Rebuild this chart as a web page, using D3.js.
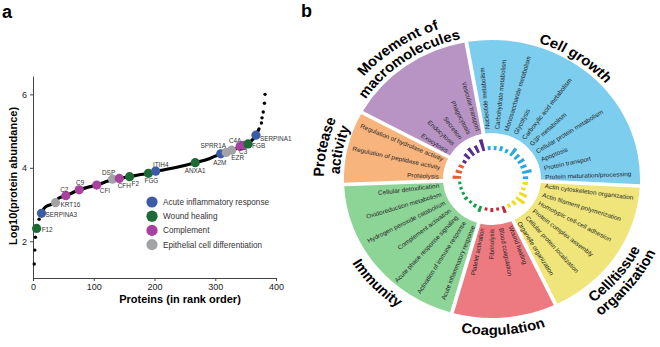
<!DOCTYPE html>
<html>
<head>
<meta charset="utf-8">
<script src="https://cdn.jsdelivr.net/npm/d3@7"></script>
<style>
body { margin: 0; background: #fff; }
svg { font-family: "Liberation Sans", Arial, sans-serif; }
</style>
</head>
<body>
<div class="svg-container"></div>
<script>
// ---- panel a: ranked protein abundance ----
var curveRank  = [14, 20, 33, 37, 42, 54, 65, 76, 90, 105, 118, 131, 142, 159, 175, 190, 202, 235, 267, 290, 309, 327, 347, 354, 362, 367, 372];
var curveValue = [2.76, 2.93, 3.02, 3.05, 3.17, 3.24, 3.32, 3.40, 3.47, 3.53, 3.61, 3.68, 3.71, 3.76, 3.81, 3.85, 3.90, 4.01, 4.14, 4.25, 4.38, 4.48, 4.60, 4.66, 4.78, 4.89, 5.06];
var dotRank  = [2, 3, 4, 10, 376, 377, 379, 381, 382];
var dotValue = [1.38, 1.76, 2.11, 2.60, 5.22, 5.36, 5.52, 5.76, 6.0];

var markerName  = ["F12", "SERPINA3", "KRT16", "C2", "C9", "CFI", "DSP", "CFH", "F2", "FGG", "ITIH4", "ANXA1", "A2M", "SPRR1A", "EZR", "C4A", "C3", "FGB", "SERPINA1"];
var markerRank  = [6, 14, 37, 54, 76, 105, 131, 142, 159, 190, 202, 267, 309, 318, 327, 341, 346, 354, 367];
var markerValue = [2.35, 2.76, 3.05, 3.24, 3.40, 3.53, 3.69, 3.71, 3.76, 3.85, 3.91, 4.14, 4.38, 4.42, 4.48, 4.58, 4.61, 4.65, 4.89];
var markerGroup = [1, 0, 3, 2, 2, 2, 3, 2, 1, 1, 0, 1, 0, 3, 3, 2, 2, 1, 0];

var groupNames  = ["Acute inflammatory response", "Wound healing", "Complement", "Epithelial cell differentiation"];
var groupColors = ["#3a5ba8", "#1d6a35", "#a8419f", "#a2a3a5"];
var xTicks = [0, 100, 200, 300, 400];
var yTicks = [2, 4, 6];

// ---- panel b: GO categories ----
var sectorNames = ["Cell growth", "Cell/tissue organization", "Coagulation", "Immunity", "Protease activity", "Movement of macromolecules"];
var sectorTerms = [
  ["Nucleotide metabolism", "Carbohydrate metabolism", "Monosaccharide metabolism", "Glycolysis", "Carboxylic acid metabolism", "G3P metabolism", "Cellular protein metabolism", "Apoptosis", "Protein transport", "Protein maturation/processing"],
  ["Actin cytoskeleton organization", "Actin filament polymerization", "Homotypic cell-cell adhesion", "Protein complex assembly", "Cellular protein localization", "Organelle organization"],
  ["Wound healing", "Blood coagulation", "Fibrinolysis", "Platelet activation"],
  ["Acute inflammatory response", "Activation of immune response", "Acute phase response signaling", "Complement activation", "Hydrogen peroxide catabolism", "Oxidoreduction metabolism", "Cellular detoxification"],
  ["Proteolysis", "Regulation of peptidase activity", "Regulation of hydrolase activity"],
  ["Exocytosis", "Endocytosis", "Secretion", "Phagocytosis", "Vesicular transport"]
];
var termBars = [
  [4, 4, 5, 4, 9, 6, 7, 6, 9, 5],
  [5, 4, 8, 10, 5, 4],
  [7, 3, 4, 3],
  [6, 4, 3, 4, 3, 3, 3],
  [8, 6, 5],
  [4, 7, 9, 8, 12]
];
var wedgeColors = ["#7ccdee", "#efe57b", "#ee7a81", "#8dd497", "#f8b47d", "#b894c5"];
var barColors   = ["#27a8e0", "#f2dc16", "#bf2a36", "#17a04b", "#f05a2a", "#5a2c8c"];

// label placement for panel a (offset from marker: dx, dy, anchor)
var labelPos = {
  F12: [5, 4, "start"], SERPINA3: [4, 3.5, "start"], KRT16: [5, 4, "start"],
  C2: [-1.5, -4, "middle"], C9: [1, -5, "middle"], CFI: [3, 7.5, "start"],
  DSP: [-4, -4, "middle"], CFH: [5, 10, "middle"], F2: [2, 9, "start"],
  FGG: [3, 10, "middle"], ITIH4: [5, -4, "middle"], ANXA1: [0, 10, "middle"],
  A2M: [-1, 11, "middle"], SPRR1A: [-13, -4, "middle"], EZR: [6, 10, "middle"],
  C4A: [-5, -4, "middle"], C3: [0, 9, "middle"], FGB: [4, 4.5, "start"],
  SERPINA1: [4, 6, "start"]
};

var svg = d3.select(".svg-container").append("svg")
  .attr("width", 660)
  .attr("height", 347);

svg.append("text").attr("x", 2).attr("y", 18)
  .style("font-size", "18px").style("font-weight", "bold").text("a");
svg.append("text").attr("x", 301).attr("y", 17)
  .style("font-size", "18px").style("font-weight", "bold").text("b");

// ===== panel a =====
var x = d3.scaleLinear().domain([0, 400]).range([33, 276]);
var y = d3.scaleLinear().domain([1, 6.5]).range([278, 76]);

var xAxis = svg.append("g")
  .attr("transform", "translate(0,278)")
  .call(d3.axisBottom(x).tickValues(xTicks).tickFormat(d3.format("d")).tickSize(3).tickSizeOuter(0));
var yAxis = svg.append("g")
  .attr("transform", "translate(33,0)")
  .call(d3.axisLeft(y).tickValues(yTicks).tickFormat(d3.format("d")).tickSize(3).tickSizeOuter(0));
[xAxis, yAxis].forEach(function(ax){
  ax.selectAll("path, line").attr("stroke", "#444");
  ax.selectAll("text").attr("fill", "#222").style("font-size", "9px")
    .style("font-family", "'Liberation Sans', Arial, sans-serif");
});

svg.append("text")
  .attr("transform", "rotate(-90)")
  .attr("x", -176).attr("y", 17)
  .style("text-anchor", "middle").style("font-size", "11px").style("font-weight", "bold")
  .text("Log10(protein abundance)");
svg.append("text")
  .attr("x", 180).attr("y", 303)
  .style("text-anchor", "middle").style("font-size", "11px").style("font-weight", "bold")
  .text("Proteins (in rank order)");

var curvePts = curveRank.map(function(r, i){ return [r, curveValue[i]]; });
var line = d3.line()
  .x(function(d){ return x(d[0]); })
  .y(function(d){ return y(d[1]); })
  .curve(d3.curveMonotoneX);
svg.append("path").datum(curvePts)
  .attr("d", line).attr("fill", "none")
  .attr("stroke", "#000").attr("stroke-width", 3.2).attr("stroke-linecap", "round");

svg.selectAll(".tail").data(dotRank).enter().append("circle")
  .attr("cx", function(d){ return x(d); })
  .attr("cy", function(d, i){ return y(dotValue[i]); })
  .attr("r", 1.7).attr("fill", "#000");

svg.selectAll(".marker").data(markerName).enter().append("circle")
  .attr("cx", function(d, i){ return x(markerRank[i]); })
  .attr("cy", function(d, i){ return y(markerValue[i]); })
  .attr("r", 4.6)
  .attr("fill", function(d, i){ return groupColors[markerGroup[i]]; });

svg.selectAll(".mlabel").data(markerName).enter().append("text")
  .attr("x", function(d, i){ return x(markerRank[i]) + labelPos[d][0]; })
  .attr("y", function(d, i){ return y(markerValue[i]) + labelPos[d][1]; })
  .style("text-anchor", function(d){ return labelPos[d][2]; })
  .style("font-size", "6.4px").attr("fill", "#333")
  .text(function(d){ return d; });

var legend = svg.append("g").attr("transform", "translate(152,202)");
groupNames.forEach(function(name, i){
  legend.append("circle").attr("cx", 0).attr("cy", i * 14.2).attr("r", 5.6).attr("fill", groupColors[i]);
  legend.append("text").attr("x", 11).attr("y", i * 14.2 + 3)
    .style("font-size", "8.2px").attr("fill", "#333").text(name);
});

// ===== panel b =====
var total = d3.sum(sectorTerms, function(t){ return t.length; });
var step = 360 / total;
var start = -10;
var rad = Math.PI / 180;
var rIn = 46, rOut = 139, rBar = 29, rLab = 50;

var wheel = svg.append("g").attr("transform", "translate(492,179) scale(1.065,1)");

var wedgeArc = d3.arc().innerRadius(rIn).outerRadius(rOut).padAngle(0.036).padRadius(100);
var barArc = d3.arc().innerRadius(rBar);

var k = 0;
sectorTerms.forEach(function(terms, s){
  var a0 = start + k * step, a1 = a0 + terms.length * step;
  wheel.append("path")
    .attr("d", wedgeArc({startAngle: a0 * rad, endAngle: a1 * rad}))
    .attr("fill", wedgeColors[s]);
  terms.forEach(function(t, j){
    var a = start + (k + j + 0.5) * step;
    wheel.append("path")
      .attr("d", barArc.outerRadius(rBar + termBars[s][j])({startAngle: (a - 2.5) * rad, endAngle: (a + 2.5) * rad}))
      .attr("fill", barColors[s]);
    var left = a >= 180;
    var g = wheel.append("g")
      .attr("transform", "rotate(" + (a - 90) + ") translate(" + rLab + ",0)" + (left ? " rotate(180)" : ""));
    g.append("text")
      .attr("dy", "0.35em")
      .style("text-anchor", left ? "end" : "start")
      .style("font-size", "6.1px").attr("fill", "#262626")
      .text(t);
  });
  k += terms.length;
});

// sector titles on arcs
var titleLayout = [
  {lines: ["Cell growth"], angle: 33, top: true},
  {lines: ["Cell/tissue", "organization"], angle: 129.5, top: false},
  {lines: ["Coagulation"], angle: 176, top: false},
  {lines: ["Immunity"], angle: 226, top: false},
  {lines: ["Protease", "activity"], angle: -78.5, top: true},
  {lines: ["Movement of", "macromolecules"], angle: -34, top: true}
];
function arcD(R, a0, a1, sweep){
  var p0 = [R * Math.sin(a0 * rad), -R * Math.cos(a0 * rad)];
  var p1 = [R * Math.sin(a1 * rad), -R * Math.cos(a1 * rad)];
  return "M" + p0[0] + "," + p0[1] + " A" + R + "," + R + " 0 0 " + sweep + " " + p1[0] + "," + p1[1];
}
titleLayout.forEach(function(tl, i){
  // top titles: first line is the outer one; bottom titles: first line is the inner one
  tl.lines.forEach(function(txt, j){
    var R;
    if (tl.top) {
      R = tl.lines.length == 1 ? 143 : (j == 0 ? 158 : 143);
    } else {
      R = j == 0 ? 156 : 170.5;
    }
    var id = "tp" + i + "_" + j;
    var d = tl.top ? arcD(R, tl.angle - 80, tl.angle + 80, 1) : arcD(R, tl.angle + 80, tl.angle - 80, 0);
    wheel.append("path").attr("id", id).attr("d", d).attr("fill", "none");
    wheel.append("text")
      .style("font-size", "14px").style("font-weight", "bold").attr("fill", "#000")
      .append("textPath")
      .attr("href", "#" + id)
      .attr("startOffset", "50%")
      .style("text-anchor", "middle")
      .text(txt);
  });
});
</script>
</body>
</html>
